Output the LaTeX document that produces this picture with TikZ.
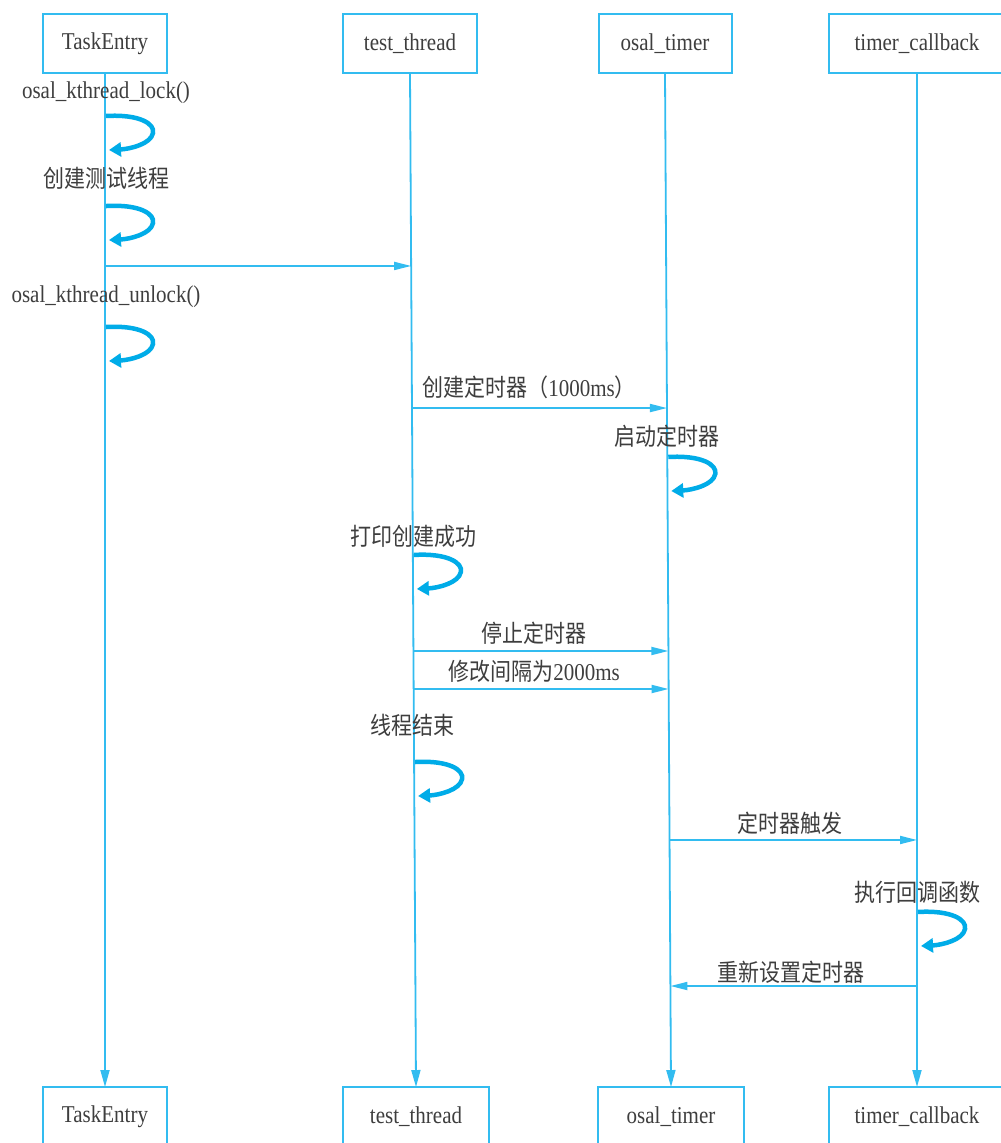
\documentclass[tikz,border=0pt]{standalone}
\usepackage{fontspec}
\usepackage{graphicx}
\setmainfont{Liberation Serif}
\newfontfamily\cjk{Noto Sans CJK SC}
\usetikzlibrary{arrows.meta,calc}
\definecolor{lifec}{RGB}{50,188,240}
\definecolor{loopc}{RGB}{0,172,232}
\definecolor{txtc}{RGB}{62,62,62}
\newcommand\vs[1]{\scalebox{1}[1.15]{#1}}
\begin{document}
\begin{tikzpicture}[x=1pt,y=-1pt,
 box/.style={draw=lifec,line width=2pt,minimum height=59pt,inner sep=0pt,outer sep=0pt,fill=white,font=\fontsize{21}{25}\selectfont,text=txtc},
 lbl/.style={font=\fontsize{21}{25}\selectfont,text=txtc,inner sep=0pt},
 life/.style={draw=lifec,line width=1.8pt,-{Triangle[length=17pt,width=9pt]}},
 msg/.style={draw=lifec,line width=1.8pt,-{Triangle[length=17pt,width=8pt]}},
 selfloop/.pic={\draw[draw=loopc,line width=4.5pt,-{Triangle[length=12pt,width=14pt]}] (1,0) .. controls (35,-2) and (50,8) .. (48,17) .. controls (46,28) and (25,33) .. (4,34);}
]
\useasboundingbox (0,0) rectangle (1001,1143);
\fill[white] (0,0) rectangle (1001,1143);

% top boxes
\node[box,minimum width=124pt] (T1) at (105,43.5) {\vs{TaskEntry}};
\node[box,minimum width=134pt] (T2) at (410,43.5) {\vs{test\_thread}};
\node[box,minimum width=133pt] (T3) at (665,43.5) {\vs{osal\_timer}};
\node[box,minimum width=176pt] (T4) at (917,43.5) {\vs{timer\_callback}};
% bottom boxes
\node[box,minimum width=124pt] (B1) at (105,1116.5) {\vs{TaskEntry}};
\node[box,minimum width=146pt] (B2) at (416,1116.5) {\vs{test\_thread}};
\node[box,minimum width=146pt] (B3) at (671,1116.5) {\vs{osal\_timer}};
\node[box,minimum width=176pt] (B4) at (917,1116.5) {\vs{timer\_callback}};

% lifelines
\draw[life] (T1.south) -- (B1.north);
\draw[life] (T2.south) -- (B2.north);
\draw[life] (T3.south) -- (B3.north);
\draw[life] (T4.south) -- (B4.north);

% points on lifelines
\coordinate (s1) at ($(T1.south)!0.0424!(B1.north)$);
\coordinate (s2) at ($(T1.south)!0.1312!(B1.north)$);
\coordinate (s3) at ($(T1.south)!0.2505!(B1.north)$);
\coordinate (s4) at ($(T3.south)!0.3787!(B3.north)$);
\coordinate (s5) at ($(T2.south)!0.4753!(B2.north)$);
\coordinate (s6) at ($(T2.south)!0.6795!(B2.north)$);
\coordinate (s7) at ($(T4.south)!0.8274!(B4.north)$);

\coordinate (m1a) at ($(T1.south)!0.1903!(B1.north)$);
\coordinate (m1b) at ($(T2.south)!0.1903!(B2.north)$);
\coordinate (m2a) at ($(T2.south)!0.3304!(B2.north)$);
\coordinate (m2b) at ($(T3.south)!0.3304!(B3.north)$);
\coordinate (m3a) at ($(T2.south)!0.5700!(B2.north)$);
\coordinate (m3b) at ($(T3.south)!0.5700!(B3.north)$);
\coordinate (m4a) at ($(T2.south)!0.6075!(B2.north)$);
\coordinate (m4b) at ($(T3.south)!0.6075!(B3.north)$);
\coordinate (m5a) at ($(T3.south)!0.7564!(B3.north)$);
\coordinate (m5b) at ($(T4.south)!0.7564!(B4.north)$);
\coordinate (m6a) at ($(T4.south)!0.9004!(B4.north)$);
\coordinate (m6b) at ($(T3.south)!0.9004!(B3.north)$);

% messages
\draw[msg] (m1a) -- (m1b);
\draw[msg] (m2a) -- (m2b);
\draw[msg] (m3a) -- (m3b);
\draw[msg] (m4a) -- (m4b);
\draw[msg] (m5a) -- (m5b);
\draw[msg] (m6a) -- (m6b);

% self loops
\pic at (s1) {selfloop};
\pic at (s2) {selfloop};
\pic at (s3) {selfloop};
\pic at (s4) {selfloop};
\pic at (s5) {selfloop};
\pic at (s6) {selfloop};
\pic at (s7) {selfloop};

% labels
\node[lbl] (l1) at (106,93) {\vs{osal\_kthread\_lock()}};
\node[lbl] (l2) at (106,178) {\vs{\cjk 创建测试线程}};
\node[lbl] (l3) at (106,297) {\vs{osal\_kthread\_unlock()}};
\node[lbl] (l4) at (529,387) {\vs{{\cjk 创建定时器（}1000ms{\cjk ）}}};
\node[lbl] (l5) at (667,436) {\vs{\cjk 启动定时器}};
\node[lbl] (l6) at (413,536) {\vs{\cjk 打印创建成功}};
\node[lbl] (l7) at (534,633) {\vs{\cjk 停止定时器}};
\node[lbl] (l8) at (534,671) {\vs{{\cjk 修改间隔为}2000ms}};
\node[lbl] (l9) at (412,725) {\vs{\cjk 线程结束}};
\node[lbl] (l10) at (790,823) {\vs{\cjk 定时器触发}};
\node[lbl] (l11) at (917,892) {\vs{\cjk 执行回调函数}};
\node[lbl] (l12) at (791,972) {\vs{\cjk 重新设置定时器}};
\end{tikzpicture}
\end{document}
